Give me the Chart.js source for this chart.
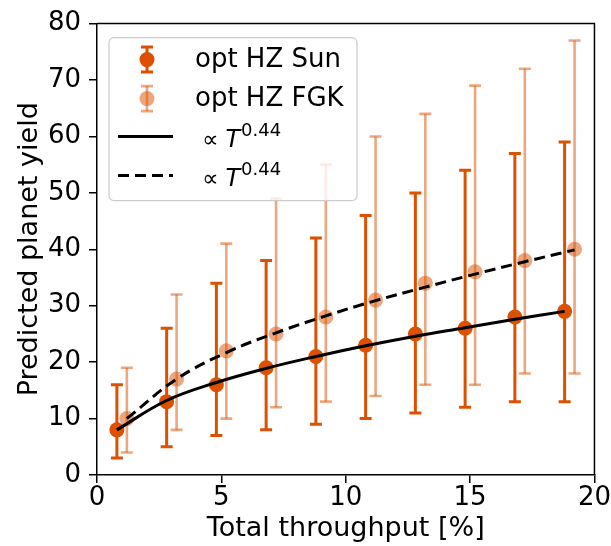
<!DOCTYPE html>
<html>
<head>
<meta charset="utf-8">
<script src="https://cdn.jsdelivr.net/npm/chart.js@4/dist/chart.umd.min.js"></script>
<style>
html,body{margin:0;padding:0;background:#fff;}
#wrap{width:611px;height:546px;}
</style>
</head>
<body>
<div id="wrap"><canvas id="c" width="611" height="546"></canvas></div>
<script>
// ---- data ----
const sunX    = [0.8, 2.8, 4.8, 6.8, 8.8, 10.8, 12.8, 14.8, 16.8, 18.8];
const sunY    = [8, 13, 16, 19, 21, 23, 25, 26, 28, 29];
const sunLow  = [3, 5, 7, 8, 9, 10, 11, 12, 13, 13];
const sunHigh = [16, 26, 34, 38, 42, 46, 50, 54, 57, 59];

const fgkX    = [1.2, 3.2, 5.2, 7.2, 9.2, 11.2, 13.2, 15.2, 17.2, 19.2];
const fgkY    = [10, 17, 22, 25, 28, 31, 34, 36, 38, 40];
const fgkLow  = [4, 8, 10, 12, 13, 14, 16, 16, 18, 18];
const fgkHigh = [19, 32, 41, 49, 55, 60, 64, 69, 72, 77];

// fitted curves
const fitSunY = [8, 13.2, 16.4, 18.9, 21, 22.9, 24.6, 26.1, 27.6, 29];
const fitFgkY = [10, 17, 21.7, 25.2, 28.2, 30.9, 33.3, 35.6, 37.8, 39.9];

const xTicks = [0, 5, 10, 15, 20];
const yTicks = [0, 10, 20, 30, 40, 50, 60, 70, 80];

const labels = ['opt HZ Sun', 'opt HZ FGK', '\u221D ', '\u221D '];
const xTitle = 'Total throughput [%]';
const yTitle = 'Predicted planet yield';

const SUN = 'rgb(220,80,0)';
const FGK = 'rgba(220,80,0,0.5)';
const FONT = '"DejaVu Sans", sans-serif';

const toPts = (xs, ys) => xs.map((x, i) => ({x: x, y: ys[i]}));

const errorBars = {
  sun: {x: sunX, lo: sunLow, hi: sunHigh, color: SUN, width: 3},
  fgk: {x: fgkX, lo: fgkLow, hi: fgkHigh, color: FGK, width: 2.6}
};

function drawErr(ctx, px, pyLo, pyHi, cap, color, w) {
  ctx.save();
  ctx.strokeStyle = color;
  ctx.lineWidth = w;
  ctx.lineCap = 'butt';
  ctx.beginPath();
  ctx.moveTo(px, pyLo); ctx.lineTo(px, pyHi);
  ctx.stroke();
  ctx.beginPath();
  ctx.moveTo(px - cap, pyLo); ctx.lineTo(px + cap, pyLo);
  ctx.moveTo(px - cap, pyHi); ctx.lineTo(px + cap, pyHi);
  ctx.stroke();
  ctx.restore();
}

const errPlugin = {
  id: 'errbars',
  beforeDatasetDraw(chart, args) {
    const ds = chart.data.datasets[args.index];
    if (!ds.errKey) return;
    const e = errorBars[ds.errKey];
    const xs = chart.scales.x, ys = chart.scales.y;
    const ctx = chart.ctx;
    for (let i = 0; i < e.x.length; i++) {
      drawErr(ctx, xs.getPixelForValue(e.x[i]), ys.getPixelForValue(e.lo[i]),
              ys.getPixelForValue(e.hi[i]), 6, e.color, e.width);
    }
  }
};

const framePlugin = {
  id: 'frame',
  afterDraw(chart) {
    const ctx = chart.ctx, a = chart.chartArea;
    ctx.save();
    ctx.strokeStyle = '#000';
    ctx.lineWidth = 1.5;
    ctx.beginPath();
    ctx.moveTo(a.left, a.top); ctx.lineTo(a.right, a.top); ctx.lineTo(a.right, a.bottom);
    ctx.stroke();
    ctx.restore();

    // legend
    const lx = a.left + 12, ly = a.top + 14, lw = 248, lh = 163;
    ctx.save();
    ctx.beginPath();
    if (ctx.roundRect) ctx.roundRect(lx, ly, lw, lh, 5); else ctx.rect(lx, ly, lw, lh);
    ctx.fillStyle = 'rgba(255,255,255,0.8)';
    ctx.fill();
    ctx.strokeStyle = '#cccccc';
    ctx.lineWidth = 1.2;
    ctx.stroke();

    const hx = lx + 38;
    const rows = [ly + 22, ly + 61, ly + 99, ly + 138];
    // row 1
    drawErr(ctx, hx, rows[0] + 12.5, rows[0] - 12.5, 6, SUN, 3);
    ctx.fillStyle = SUN;
    ctx.beginPath(); ctx.arc(hx, rows[0], 7.5, 0, Math.PI * 2); ctx.fill();
    // row 2
    drawErr(ctx, hx, rows[1] + 12.5, rows[1] - 12.5, 6, FGK, 2.6);
    ctx.fillStyle = FGK;
    ctx.beginPath(); ctx.arc(hx, rows[1], 7.5, 0, Math.PI * 2); ctx.fill();
    // row 3/4 lines
    ctx.strokeStyle = '#000';
    ctx.lineWidth = 3;
    ctx.beginPath(); ctx.moveTo(lx + 9, rows[2]); ctx.lineTo(lx + 64, rows[2]); ctx.stroke();
    ctx.setLineDash([11, 6]);
    ctx.beginPath(); ctx.moveTo(lx + 9, rows[3]); ctx.lineTo(lx + 64, rows[3]); ctx.stroke();
    ctx.setLineDash([]);

    ctx.fillStyle = '#000';
    ctx.textBaseline = 'middle';
    ctx.textAlign = 'left';
    ctx.font = '26px ' + FONT;
    ctx.fillText(labels[0], lx + 86, rows[0] + 1);
    ctx.fillText(labels[1], lx + 86, rows[1] + 1);
    for (let k = 2; k < 4; k++) {
      let x = lx + 93;
      const y = rows[k] + 2;
      ctx.textBaseline = 'alphabetic';
      ctx.font = '23px ' + FONT;
      ctx.fillText('\u221D', x, y + 8);
      x += ctx.measureText('\u221D').width + 7;
      ctx.font = 'italic 24px ' + FONT;
      ctx.fillText('T', x, y + 8);
      x += ctx.measureText('T').width + 1;
      ctx.font = '18px ' + FONT;
      ctx.fillText('0.44', x, y - 3);
    }
    ctx.restore();
  }
};

const tickFont = {family: FONT, size: 26};
const titleFont = {family: FONT, size: 27};

new Chart(document.getElementById('c'), {
  type: 'scatter',
  data: {
    datasets: [
      {label: labels[0], data: toPts(sunX, sunY), errKey: 'sun', order: 4,
       backgroundColor: SUN, borderColor: SUN, pointRadius: 7.5, pointBorderWidth: 0, showLine: false},
      {label: labels[1], data: toPts(fgkX, fgkY), errKey: 'fgk', order: 3,
       backgroundColor: FGK, borderColor: FGK, pointRadius: 7.5, pointBorderWidth: 0, showLine: false},
      {label: labels[2], data: toPts(sunX, fitSunY), order: 2, showLine: true,
       borderColor: '#000', borderWidth: 3, pointRadius: 0, tension: 0.4, fill: false},
      {label: labels[3], data: toPts(fgkX, fitFgkY), order: 1, showLine: true,
       borderColor: '#000', borderWidth: 3, borderDash: [11, 6], pointRadius: 0, tension: 0.4, fill: false}
    ]
  },
  options: {
    responsive: false,
    animation: false,
    devicePixelRatio: 1,
    layout: {padding: {left: 0, top: 16, right: 14, bottom: 0}},
    plugins: {legend: {display: false}, tooltip: {enabled: false}},
    scales: {
      x: {
        type: 'linear', min: 0, max: 20,
        afterBuildTicks: s => { s.ticks = xTicks.map(v => ({value: v})); },
        afterFit: s => { s.height = 71; },
        ticks: {font: tickFont, color: '#000', padding: 0, maxRotation: 0},
        grid: {display: true, drawOnChartArea: false, drawTicks: true, tickLength: 8, color: '#000', lineWidth: 1.5},
        border: {display: true, color: '#000', width: 1.5},
        title: {display: true, text: xTitle, font: titleFont, color: '#000', padding: {top: 0, bottom: 1}}
      },
      y: {
        type: 'linear', min: 0, max: 80,
        afterBuildTicks: s => { s.ticks = yTicks.map(v => ({value: v})); },
        afterFit: s => { s.width = 97; },
        ticks: {font: tickFont, color: '#000', padding: 8},
        grid: {display: true, drawOnChartArea: false, drawTicks: true, tickLength: 8, color: '#000', lineWidth: 1.5},
        border: {display: true, color: '#000', width: 1.5},
        title: {display: true, text: yTitle, font: titleFont, color: '#000', padding: {top: 14, bottom: 0}}
      }
    }
  },
  plugins: [errPlugin, framePlugin]
});
</script>
</body>
</html>
